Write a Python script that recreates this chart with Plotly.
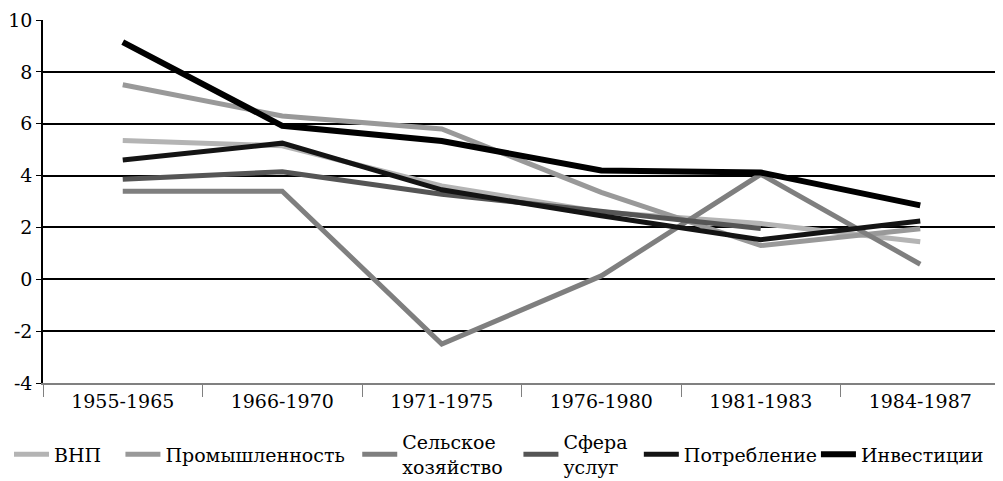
import plotly.graph_objects as go

categories = ["1955-1965", "1966-1970", "1971-1975", "1976-1980", "1981-1983", "1984-1987"]
series_names = ["ВНП", "Промышленность", "Сельское<br>хозяйство", "Сфера<br>услуг", "Потребление", "Инвестиции"]
vnp = [5.35, 5.15, 3.6, 2.6, 2.15, 1.45]
prom = [7.5, 6.3, 5.8, 3.35, 1.3, 1.95]
selsk = [3.4, 3.4, -2.5, 0.13, 4.05, 0.58]
sfera = [3.86, 4.15, 3.28, 2.62, 1.96, None]
potr = [4.6, 5.25, 3.45, 2.45, 1.53, 2.25]
invest = [9.15, 5.92, 5.33, 4.2, 4.12, 2.85]
y_ticks = [-4, -2, 0, 2, 4, 6, 8, 10]
y_labels = ["-4", "-2", "0", "2", "4", "6", "8", "10"]

colors = ["#b4b4b4", "#999999", "#7f7f7f", "#555555", "#141414", "#000000"]
widths = [5, 5, 5, 5, 5, 6]
legend_ids = ["legend", "legend2", "legend3", "legend4", "legend5", "legend6"]
legend_x = [0.001, 0.113, 0.351, 0.513, 0.634, 0.812]
data = [vnp, prom, selsk, sfera, potr, invest]

fig = go.Figure()
for name, vals, c, w, lg in zip(series_names, data, colors, widths, legend_ids):
    fig.add_trace(go.Scatter(x=categories, y=vals, mode="lines", name=name, legend=lg,
                             line=dict(color=c, width=w), connectgaps=False))

font = "DejaVu Serif"
lfont = dict(family=font, size=19, color="black")
common = dict(orientation="h", xanchor="left", xref="container", y=0.056, yanchor="middle",
              yref="container", font=lfont, itemwidth=35, tracegroupgap=0,
              traceorder="normal", bgcolor="rgba(0,0,0,0)")
fig.update_layout(
    width=995, height=473,
    margin=dict(l=35, r=3, t=12, b=98, autoexpand=False),
    plot_bgcolor="white", paper_bgcolor="white",
    font=dict(family=font, size=19, color="black"),
    showlegend=True,
    **{lg: dict(x=lx, **common) for lg, lx in zip(legend_ids, legend_x)},
)
fig.update_xaxes(type="category", range=[-0.5, 5.5], tickson="boundaries", ticks="outside", ticklen=12,
                 tickcolor="#808080", showline=True, linecolor="#808080", linewidth=2,
                 showgrid=False, automargin=False, tickfont=dict(family=font, size=19, color="black"))
fig.update_yaxes(range=[-4, 10], tickvals=y_ticks, ticktext=y_labels, showgrid=True,
                 gridcolor="black", gridwidth=1.5,
                 zeroline=False, showline=True, linecolor="black", linewidth=1.5,
                 ticks="outside", ticklen=5, tickcolor="black", automargin=False,
                 tickfont=dict(family=font, size=19, color="black"))
fig.write_html("out.html")
